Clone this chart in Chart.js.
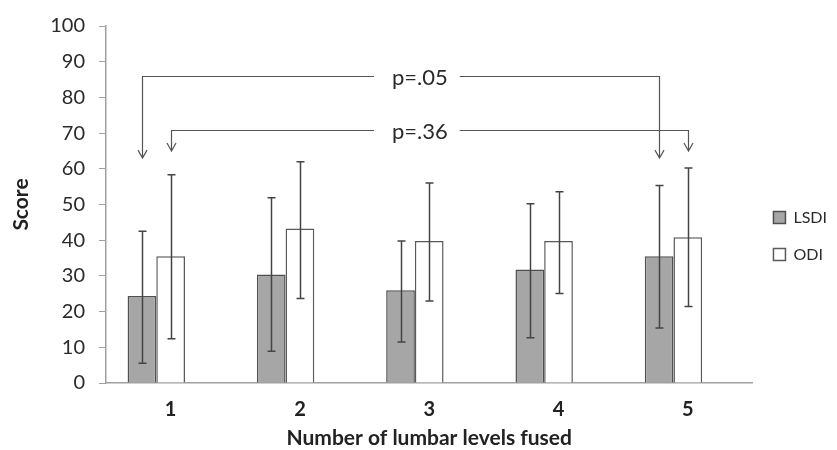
<!DOCTYPE html>
<html>
<head>
<meta charset="utf-8">
<script src="https://cdn.jsdelivr.net/npm/chart.js@4/dist/chart.umd.min.js"></script>
<style>
  html, body { margin: 0; padding: 0; background: #fff; }
  #wrap { width: 837px; height: 450px; }
</style>
</head>
<body>
<div id="wrap"><canvas id="scoreChart" width="837" height="450"></canvas></div>
<script>
// Values
var levels = ['1', '2', '3', '4', '5'];
var lsdiMean = [24.4, 30.4, 26.0, 31.8, 35.5];
var lsdiLow = [5.5, 8.9, 11.5, 12.7, 15.4];
var lsdiHigh = [42.5, 51.9, 39.8, 50.2, 55.3];
var odiMean = [35.5, 43.3, 39.8, 39.8, 40.8];
var odiLow = [12.4, 23.7, 23.0, 25.1, 21.4];
var odiHigh = [58.3, 62.0, 56.0, 53.6, 60.2];

// p-value brackets: arrows point at this dataset's first and last bar
var pLabels = ['p=.05', 'p=.36'];
var pDataset = [0, 1];
var pLineAt = [86, 71];
var pTipAt = [63, 65];

var fontFam = 'Lato, "Open Sans", sans-serif';

// error bars drawn on top of the bars
var errorBars = {
  id: 'errorBars',
  afterDatasetsDraw: function(chart) {
    var ctx = chart.ctx;
    var y = chart.scales.y;
    var sets = [[lsdiLow, lsdiHigh], [odiLow, odiHigh]];
    ctx.save();
    ctx.strokeStyle = '#444';
    ctx.lineWidth = 1.5;
    sets.forEach(function(s, di) {
      chart.getDatasetMeta(di).data.forEach(function(bar, i) {
        var x = Math.round(bar.x) + 0.5;
        var top = y.getPixelForValue(s[1][i]);
        var bot = y.getPixelForValue(s[0][i]);
        ctx.beginPath();
        ctx.moveTo(x, top); ctx.lineTo(x, bot);
        ctx.moveTo(x - 4, top); ctx.lineTo(x + 4, top);
        ctx.moveTo(x - 4, bot); ctx.lineTo(x + 4, bot);
        ctx.stroke();
      });
    });
    ctx.restore();
  }
};

// comparison brackets with arrows and p-values
var brackets = {
  id: 'brackets',
  afterDatasetsDraw: function(chart) {
    var ctx = chart.ctx;
    var y = chart.scales.y;
    var first = chart.getDatasetMeta(0).data[0];
    var last = chart.getDatasetMeta(1).data[levels.length - 1];
    var mid = (first.x + last.x) / 2 + 5;
    ctx.save();
    ctx.strokeStyle = '#555';
    ctx.fillStyle = '#2a2a2a';
    ctx.lineWidth = 1.2;
    ctx.font = '22px ' + fontFam;
    ctx.textAlign = 'center';
    ctx.textBaseline = 'middle';
    pLabels.forEach(function(txt, k) {
      var meta = chart.getDatasetMeta(pDataset[k]);
      var x1 = Math.round(meta.data[0].x) + 0.5;
      var x2 = Math.round(meta.data[levels.length - 1].x) + 0.5;
      var ly = Math.round(y.getPixelForValue(pLineAt[k])) + 0.5;
      var ty = y.getPixelForValue(pTipAt[k]);
      var w = ctx.measureText(txt).width;
      ctx.beginPath();
      ctx.moveTo(x1, ty); ctx.lineTo(x1, ly); ctx.lineTo(mid - w / 2 - 18, ly);
      ctx.moveTo(mid + w / 2 + 12, ly); ctx.lineTo(x2, ly); ctx.lineTo(x2, ty);
      [x1, x2].forEach(function(ax) {
        ctx.moveTo(ax - 4.5, ty - 8); ctx.lineTo(ax, ty); ctx.lineTo(ax + 4.5, ty - 8);
      });
      ctx.stroke();
      ctx.fillText(txt, mid, ly + 1);
    });
    ctx.restore();
  }
};

var ctx = document.getElementById('scoreChart').getContext('2d');
new Chart(ctx, {
  type: 'bar',
  data: {
    labels: levels,
    datasets: [{
      label: 'LSDI',
      data: lsdiMean,
      backgroundColor: '#a6a6a6',
      borderColor: '#505050',
      borderWidth: 1.5
    }, {
      label: 'ODI',
      data: odiMean,
      backgroundColor: '#ffffff',
      borderColor: '#5a5a5a',
      borderWidth: 1.5
    }, {
      // empty third series, keeps the bars shifted left like the original
      label: '',
      data: levels.map(function() { return null; })
    }]
  },
  options: {
    responsive: false,
    animation: false,
    layout: { padding: { top: 22, right: 0, bottom: 0, left: 0 } },
    datasets: { bar: { categoryPercentage: 0.666, barPercentage: 1 } },
    plugins: {
      legend: {
        position: 'right',
        labels: {
          boxWidth: 12,
          boxHeight: 12,
          padding: 21,
          color: '#2a2a2a',
          font: { family: fontFam, size: 16 },
          filter: function(item) { return item.text !== ''; }
        }
      },
      tooltip: { enabled: false }
    },
    scales: {
      x: {
        grid: { display: false, drawTicks: false },
        border: { color: '#a0a0a0', width: 1.5 },
        ticks: { color: '#222', padding: 15, font: { family: fontFam, size: 20, weight: 'bold' } },
        title: {
          display: true,
          text: 'Number of lumbar levels fused',
          color: '#222',
          padding: { top: 0, bottom: 1 },
          font: { family: fontFam, size: 21, weight: 'bold', lineHeight: 1 }
        },
        afterFit: function(s) { s.height = 67; }
      },
      y: {
        min: 0,
        max: 100,
        ticks: { stepSize: 10, color: '#2a2a2a', padding: 14, font: { family: fontFam, size: 20 } },
        grid: { drawOnChartArea: false, drawTicks: true, tickLength: 7, color: '#a0a0a0' },
        border: { color: '#a0a0a0', width: 1.5 },
        title: {
          display: true,
          text: 'Score',
          color: '#222',
          padding: { top: 9, bottom: 0 },
          font: { family: fontFam, size: 21, weight: 'bold' }
        },
        afterFit: function(s) { s.width = 106; }
      }
    }
  },
  plugins: [errorBars, brackets]
});
</script>
</body>
</html>
